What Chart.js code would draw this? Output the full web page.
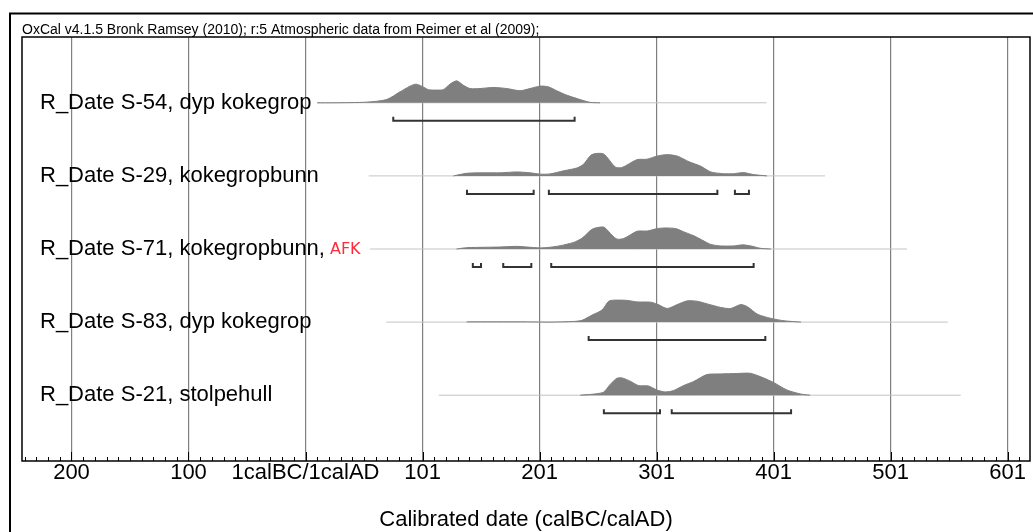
<!DOCTYPE html>
<html>
<head>
<meta charset="utf-8">
<script src="https://cdn.jsdelivr.net/npm/chart.js@4/dist/chart.umd.min.js"></script>
<style>
  html, body { margin: 0; padding: 0; background: #fff; }
  canvas { display: block; }
</style>
</head>
<body>
<canvas id="oxcalChart" width="1033" height="532"></canvas>
<script>
// Axis ticks (years from the BC/AD boundary) and the labels OxCal prints for them
const tickValues = [-200, -100, 0, 100, 200, 300, 400, 500, 600];
const tickLabels = ['200', '100', '1calBC/1calAD', '101', '201', '301', '401', '501', '601'];

// Samples, top to bottom
const sampleLabels = [
    'R_Date S-54, dyp kokegrop',
    'R_Date S-29, kokegropbunn',
    'R_Date S-71, kokegropbunn,',
    'R_Date S-83, dyp kokegrop',
    'R_Date S-21, stolpehull'
];

// Extent of the thin baseline drawn under each distribution
const baselineRanges = [[10, 394], [54, 444], [55, 514], [69, 549], [114, 560]];

// 95.4% ranges (brackets under each distribution)
const rangesS54 = [[75, 230]];
const rangesS29 = [[138, 195], [208, 352], [367, 379]];
const rangesS71 = [[143, 150], [169, 193], [210, 383]];
const rangesS83 = [[242, 393]];
const rangesS21 = [[255, 303], [313, 415]];

// Calibrated probability, relative to each distribution's peak: [year, p]
const densityS54 = [[10, 0], [23.8, 0], [52.3, 0.03], [69.4, 0.15], [80.8, 0.5], [89.3, 0.76], [94.4, 0.85], [99.3, 0.76],
    [105, 0.6], [112.1, 0.58], [117.8, 0.6], [123.5, 0.85], [129.2, 1.0], [134.9, 0.8], [140.6, 0.65], [149.1, 0.65],
    [160.5, 0.7], [172, 0.65], [183.3, 0.55], [191.9, 0.65], [200.4, 0.76], [207.5, 0.73], [214.7, 0.55],
    [223.2, 0.35], [234.6, 0.15], [243.2, 0.02], [251.7, 0]];
const densityS29 = [[126.5, 0], [137.9, 0.12], [152.1, 0.14], [166.4, 0.14], [180.6, 0.18], [192, 0.14], [200.6, 0.08],
    [209.1, 0.09], [220.5, 0.23], [231.9, 0.36], [237.6, 0.53], [244.7, 0.97], [254.7, 1.0], [264.7, 0.41],
    [270.4, 0.38], [283.2, 0.74], [291.7, 0.76], [300.9, 0.91], [309.4, 0.97], [318, 0.9], [328, 0.64],
    [337.9, 0.44], [346.4, 0.18], [357.3, 0.1], [365.8, 0.1], [374.4, 0.15], [382.9, 0.06], [394.3, 0]];
const densityS71 = [[129.1, 0], [137.7, 0.06], [154.9, 0.08], [166.3, 0.09], [180.6, 0.12], [189.1, 0.09], [200.6, 0.05],
    [209.1, 0.08], [217.7, 0.15], [229.1, 0.3], [236.3, 0.49], [244.9, 0.9], [252, 1.0], [255.4, 0.99], [262, 0.63],
    [266.3, 0.45], [272, 0.48], [283.4, 0.81], [292, 0.82], [300.6, 0.93], [307.7, 0.96], [316.3, 0.93],
    [323.4, 0.78], [332, 0.6], [340.6, 0.36], [346.3, 0.21], [354.9, 0.14], [366.3, 0.14], [373.4, 0.19],
    [380.6, 0.14], [389.1, 0.03], [397.7, 0]];
const densityS83 = [[137.7, 0.01], [189.1, 0.01], [209.1, 0], [229.1, 0.03], [236.3, 0.08], [244.9, 0.32], [253.4, 0.55],
    [259.1, 0.95], [263.4, 1.0], [274.9, 0.99], [283.4, 0.92], [294.9, 0.91], [300.6, 0.82], [309.1, 0.62],
    [317.7, 0.8], [326.3, 0.97], [334.9, 0.95], [343.4, 0.83], [354.9, 0.67], [363.4, 0.62], [372, 0.8],
    [377.7, 0.7], [386.3, 0.36], [397.7, 0.17], [409.1, 0.06], [423.4, 0]];
const densityS21 = [[234.8, 0], [246.2, 0.05], [254.7, 0.14], [260.4, 0.49], [266.1, 0.77], [270.4, 0.79], [277.5, 0.64],
    [284.6, 0.44], [293.2, 0.42], [300.3, 0.24], [307.4, 0.15], [314.5, 0.21], [323.1, 0.44], [331.6, 0.62],
    [343, 0.94], [354.4, 0.97], [368.7, 0.99], [380, 1.0], [388.6, 0.85], [400, 0.58], [411.4, 0.24],
    [422.8, 0.06], [431.3, 0]];

const densities = [densityS54, densityS29, densityS71, densityS83, densityS21];
const ranges = [rangesS54, rangesS29, rangesS71, rangesS83, rangesS21];

// ---- drawing settings ----
const FONT = 'Arial, "Liberation Sans", Helvetica, sans-serif';
const PEAK_HEIGHT = 0.3;      // distribution peak, in row units
const BRACKET_DROP = 0.246;   // bracket below the baseline
const BRACKET_TIP = 0.055;    // little upturned ends

const rowY = i => sampleLabels.length - 1 - i;

const datasets = [];
sampleLabels.forEach((label, i) => {
    const y0 = rowY(i);

    // thin baseline
    datasets.push({
        data: baselineRanges[i].map(x => ({ x: x, y: y0 })),
        borderColor: '#c4c4c4',
        borderWidth: 1,
        pointRadius: 0,
        fill: false,
        order: 3
    });

    // probability distribution
    datasets.push({
        data: densities[i].map(d => ({ x: d[0], y: y0 + d[1] * PEAK_HEIGHT })),
        borderColor: '#7f7f7f',
        backgroundColor: '#7f7f7f',
        borderWidth: 1,
        pointRadius: 0,
        tension: 0.25,
        fill: { value: y0 },
        order: 2
    });

    // range brackets
    const yb = y0 - BRACKET_DROP;
    const pts = [];
    ranges[i].forEach(r => {
        pts.push({ x: r[0], y: yb + BRACKET_TIP }, { x: r[0], y: yb },
                 { x: r[1], y: yb }, { x: r[1], y: yb + BRACKET_TIP }, { x: r[1], y: null });
    });
    datasets.push({
        data: pts,
        borderColor: '#333',
        borderWidth: 2,
        pointRadius: 0,
        fill: false,
        spanGaps: false,
        order: 1
    });
});

const oxcalFrame = {
    id: 'oxcalFrame',
    beforeDraw(chart) {
        const ctx = chart.ctx;
        ctx.save();
        ctx.fillStyle = '#fff';
        ctx.fillRect(0, 0, chart.width, chart.height);
        ctx.restore();
    },
    afterDraw(chart) {
        const ctx = chart.ctx;
        const a = chart.chartArea;
        const xs = chart.scales.x;
        const ys = chart.scales.y;
        ctx.save();

        // minor / major ticks pointing up from the axis line
        ctx.strokeStyle = '#000';
        ctx.lineWidth = 1;
        for (let v = -240; v <= 610; v += 10) {
            const px = Math.round(xs.getPixelForValue(v)) + 0.5;
            const len = v % 100 === 0 ? 9 : 4;
            ctx.beginPath();
            ctx.moveTo(px, a.bottom);
            ctx.lineTo(px, a.bottom - len);
            ctx.stroke();
        }

        // plot box
        ctx.lineWidth = 1.5;
        ctx.strokeRect(a.left, a.top, a.right - a.left, a.bottom - a.top);

        // outer frame
        ctx.lineWidth = 2;
        ctx.beginPath();
        ctx.moveTo(10, chart.height);
        ctx.lineTo(10, 13.5);
        ctx.lineTo(chart.width, 13.5);
        ctx.stroke();

        // red "AFK" note after the S-71 label
        ctx.font = '22px ' + FONT;
        const w = ctx.measureText(sampleLabels[2]).width;
        ctx.font = '16px "DejaVu Sans", Verdana, sans-serif';
        ctx.fillStyle = '#ff2b3a';
        ctx.textBaseline = 'middle';
        ctx.textAlign = 'left';
        ctx.fillText('AFK', a.left + 18 + w + 5, ys.getPixelForValue(rowY(2)) + 1);
        ctx.restore();
    }
};

new Chart(document.getElementById('oxcalChart'), {
    type: 'line',
    data: { datasets: datasets },
    plugins: [oxcalFrame],
    options: {
        responsive: false,
        devicePixelRatio: 1,
        animation: false,
        events: [],
        layout: { padding: { left: 22, right: 3, top: 0, bottom: 0 } },
        plugins: {
            legend: { display: false },
            tooltip: { enabled: false },
            title: {
                display: true,
                text: 'OxCal v4.1.5 Bronk Ramsey (2010); r:5 Atmospheric data from Reimer et al (2009);',
                align: 'start',
                color: '#000',
                font: { family: FONT, size: 14, weight: 'normal', lineHeight: 1 },
                padding: { top: 23, bottom: 0 }
            }
        },
        scales: {
            x: {
                type: 'linear',
                min: -242.3,
                max: 619.2,
                z: 1,
                afterBuildTicks: scale => { scale.ticks = tickValues.map(v => ({ value: v })); },
                afterFit: scale => { scale.height = 71; },
                grid: { color: 'rgba(0,0,0,0.5)', lineWidth: 1.2, drawTicks: false },
                border: { display: false },
                ticks: {
                    autoSkip: false,
                    maxRotation: 0,
                    padding: 1,
                    color: '#000',
                    font: { family: FONT, size: 22, lineHeight: 1 },
                    callback: v => tickLabels[tickValues.indexOf(v)]
                },
                title: {
                    display: true,
                    text: 'Calibrated date (calBC/calAD)',
                    color: '#000',
                    font: { family: FONT, size: 22, lineHeight: 1 },
                    padding: { top: 0, bottom: 1 }
                }
            },
            y: {
                type: 'linear',
                min: -0.9,
                max: 4.9,
                z: 2,
                afterBuildTicks: scale => { scale.ticks = sampleLabels.map((l, i) => ({ value: rowY(i) })); },
                afterFit: scale => { scale.width = 0; },
                grid: { display: false, drawTicks: false },
                border: { display: false },
                ticks: {
                    mirror: true,
                    padding: 18,
                    autoSkip: false,
                    color: '#000',
                    font: { family: FONT, size: 22 },
                    callback: v => sampleLabels[rowY(v)]
                }
            }
        }
    }
});
</script>
</body>
</html>
